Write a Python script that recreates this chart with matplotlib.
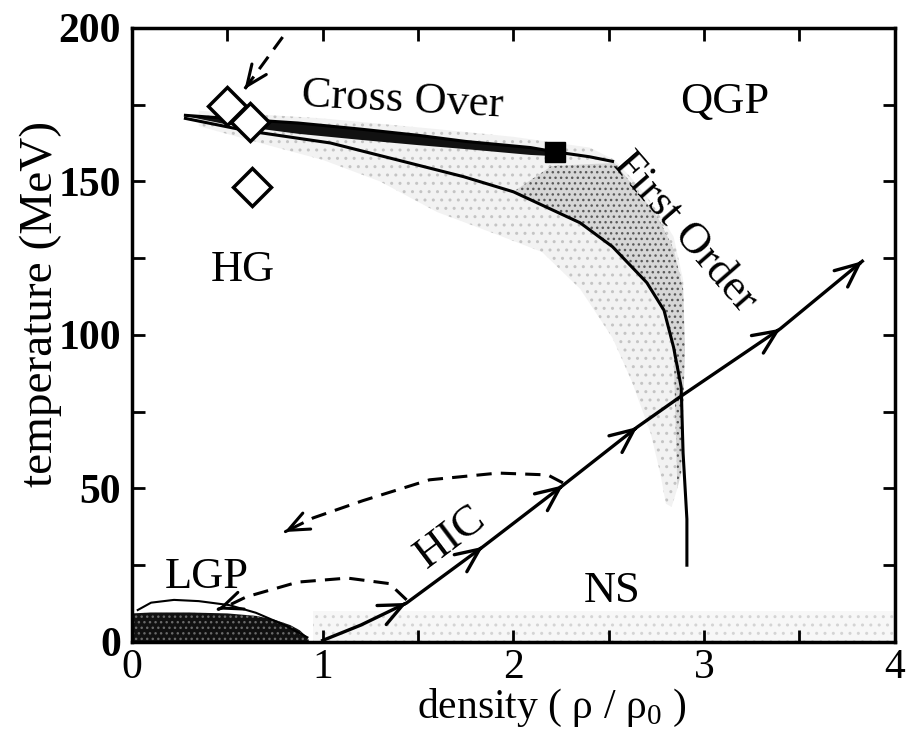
import numpy as np
import matplotlib
matplotlib.use('Agg')
import matplotlib.pyplot as plt
from matplotlib.patches import Polygon

plt.rcParams['font.family'] = ['Liberation Serif', 'DejaVu Serif']
plt.rcParams['mathtext.fontset'] = 'custom'
plt.rcParams['mathtext.rm'] = 'Liberation Serif'
plt.rcParams['hatch.linewidth'] = 1.0

# crossover line (ends beyond the critical point)
cross_x = [0.28, 0.5, 0.87, 1.2, 1.5, 1.75, 2.09, 2.22, 2.4, 2.52]
cross_y = [171.5, 170.5, 169, 167, 165, 163, 161, 159.6, 158, 156.5]
# dense part under the crossover line
dense_x = [0.3, 0.5, 0.87, 1.2, 1.5, 1.75, 2.09, 2.22]
dense_y = [171, 168.5, 165.5, 163.5, 161.8, 160.5, 158.6, 158.2]
# first order phase boundary
first_x = [0.28, 0.6, 1.04, 1.39, 1.74, 2.0, 2.35, 2.52, 2.70, 2.79, 2.84, 2.88, 2.89, 2.91, 2.91]
first_y = [170.5, 166.5, 162.5, 157, 151.5, 146.6, 136.5, 128.7, 117, 108, 96, 83, 61.5, 40, 25]

# mixed phase region (outer edge, then inner edge back)
band_x = [0.35, 1.0, 1.6, 2.0, 2.4, 2.53, 2.62, 2.70, 2.78, 2.84, 2.89, 2.9, 2.89, 2.88, 2.86, 2.83,
          2.80, 2.77, 2.72, 2.62, 2.52, 2.35, 2.15, 1.9, 1.6, 1.3, 1.0, 0.7, 0.35]
band_y = [173, 170.5, 167, 164.5, 161, 157, 151, 145, 138, 132, 118, 94, 83, 65, 50, 44,
          45, 55, 68, 85, 99, 115, 127, 133, 140, 150, 157, 162, 168]
# denser strip just outside the boundary
edge_x = [2.2, 2.53, 2.65, 2.76, 2.84, 2.89, 2.9, 2.89, 2.88, 2.86, 2.84, 2.79, 2.70, 2.52, 2.35, 2.0]
edge_y = [155, 156, 147, 138, 128, 115, 95, 75, 55, 50, 96, 108, 117, 128.7, 136.5, 146.6]

# liquid-gas region
lgp_x = [0.0, 0.1, 0.3, 0.5, 0.65, 0.75, 0.83, 0.88, 0.92, 0.93, 0.0]
lgp_y = [9.3, 9.6, 9.6, 9.3, 8.5, 7.2, 5.5, 3.8, 1.5, 0.0, 0.0]
spin_x = [0.03, 0.1, 0.22, 0.35, 0.51, 0.65, 0.8, 0.92]
spin_y = [10.4, 12.8, 13.7, 13.3, 12.0, 9.5, 5.5, 1.5]

# heavy ion collision trajectory
hic_x = [1.0, 1.2, 1.44, 1.84, 2.26, 2.65, 2.89, 3.40, 3.83]
hic_y = [0.5, 5.5, 12.7, 31, 51, 70, 80.5, 102, 124]
hic_arrows = [2, 3, 4, 5, 7, 8]

dash_hi_x = [2.26, 2.18, 1.92, 1.56, 1.21, 0.95, 0.80]
dash_hi_y = [51.8, 54.4, 55, 52.8, 46, 40.4, 35.8]
dash_lo_x = [1.44, 1.35, 1.13, 0.87, 0.6, 0.51, 0.45]
dash_lo_y = [13.7, 19, 20.8, 19.5, 14.7, 12, 10.6]
dash_top_x = [0.79, 0.59]
dash_top_y = [197, 180]

lattice_x = [0.50, 0.62, 0.63]
lattice_y = [174.6, 169.4, 148]
cep_x, cep_y = 2.22, 159.6


def head(ax, x, y, lw, style):
    # only the arrow head: start a tiny step back along the last segment
    x0 = x[-1] + 0.03 * (x[-2] - x[-1])
    y0 = y[-1] + 0.03 * (y[-2] - y[-1])
    ax.annotate('', xy=(x[-1], y[-1]), xytext=(x0, y0),
                arrowprops=dict(arrowstyle=style, lw=lw, color='black',
                                shrinkA=0, shrinkB=0, mutation_scale=20), zorder=4)


fig, ax = plt.subplots(figsize=(9.13, 7.32), dpi=100)
fig.subplots_adjust(left=0.1446, right=0.980, bottom=0.123, top=0.962)

# nuclear matter near T = 0
ax.fill_between([0.95, 4.0], 0, 10, facecolor='#f7f7f7', edgecolor='#d4d4d4',
                hatch='..', lw=0, zorder=0)

ax.add_patch(Polygon(list(zip(band_x, band_y)), closed=True, facecolor='#f2f2f2',
                     edgecolor='#c4c4c4', hatch='..', lw=0, zorder=1))
ax.add_patch(Polygon(list(zip(edge_x, edge_y)), closed=True, facecolor='#d6d6d6',
                     edgecolor='#5a5a5a', hatch='...', lw=0, zorder=1))
ax.fill(dense_x + cross_x[7::-1], dense_y + cross_y[7::-1], color='#111111', lw=0, zorder=2)

ax.add_patch(Polygon(list(zip(lgp_x, lgp_y)), closed=True, facecolor='#111111',
                     edgecolor='#6a6a6a', hatch='...', lw=0, zorder=2))
ax.plot(spin_x, spin_y, color='black', lw=1.5, zorder=3)

ax.plot(cross_x, cross_y, color='black', lw=2.2, zorder=3)
ax.plot(first_x, first_y, color='black', lw=2.2, zorder=3)

ax.plot(hic_x, hic_y, color='black', lw=2.4, zorder=4)
for i in hic_arrows:
    head(ax, hic_x[:i + 1], hic_y[:i + 1], 2.4, '->,head_length=0.85,head_width=0.38')

for dx, dy in [(dash_hi_x, dash_hi_y), (dash_lo_x, dash_lo_y), (dash_top_x, dash_top_y)]:
    ax.plot(dx, dy, color='black', lw=2.2, linestyle=(0, (5, 3)), zorder=4)
    head(ax, dx, dy, 2.2, '->,head_length=0.75,head_width=0.32')

ax.plot(lattice_x, lattice_y, 'D', ms=19, mfc='white', mec='black', mew=2.5,
        linestyle='none', zorder=5)
ax.plot(cep_x, cep_y, 's', ms=15, color='black', zorder=5)

lab = dict(fontsize=32, color='black', ha='center', va='center', zorder=6)
ax.text(3.11, 176, 'QGP', **lab)
ax.text(1.42, 176.5, 'Cross Over', rotation=-3, **lab)
ax.text(2.90, 133.5, 'First Order', rotation=-49, **lab)
ax.text(0.58, 121, 'HG', **lab)
ax.text(1.67, 34, 'HIC', rotation=37, **lab)
ax.text(0.39, 21, 'LGP', **lab)
ax.text(2.52, 16.6, 'NS', **lab)

ax.set_xlim(0, 4)
ax.set_ylim(0, 200)
ax.set_xticks([0, 1, 2, 3, 4])
ax.set_xticks(np.arange(0, 4.01, 0.5), minor=True)
ax.set_yticks([0, 50, 100, 150, 200])
ax.set_yticks(np.arange(0, 201, 25), minor=True)
ax.tick_params(which='both', direction='in', length=9, width=2,
               top=True, right=True)
ax.tick_params(axis='x', labelsize=30, pad=5)
ax.tick_params(axis='y', labelsize=30, pad=8)
for t in ax.get_yticklabels():
    t.set_fontweight('bold')
for s in ax.spines.values():
    s.set_linewidth(2.5)

ax.set_xlabel('density ( ρ / ρ$_0$ )', fontsize=30)
ax.xaxis.set_label_coords(0.55, -0.074)
ax.set_ylabel('temperature (MeV)', fontsize=34)
ax.yaxis.set_label_coords(-0.092, 0.55)

fig.savefig('out.png', dpi=100)
